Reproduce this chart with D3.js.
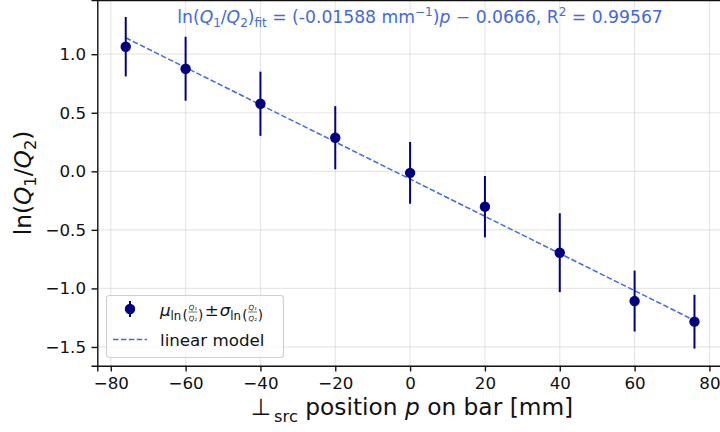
<!DOCTYPE html>
<html>
<head>
<meta charset="utf-8">
<script src="https://cdn.jsdelivr.net/npm/d3@7"></script>
<style>
  body { margin: 0; background: #fff; }
  svg { font-family: "DejaVu Sans", sans-serif; }
</style>
</head>
<body>
<div id="chart"></div>
<script>
// measured positions along the bar [mm] and the ln(Q1/Q2) statistics
const positions = [-76, -60, -40, -20, 0, 20, 40, 60, 76];
const means = [1.064, 0.876, 0.577, 0.287, -0.013, -0.302, -0.695, -1.108, -1.284];
const sigmas = [0.254, 0.273, 0.274, 0.270, 0.264, 0.262, 0.337, 0.260, 0.230];
const fitSlope = -0.01588, fitIntercept = -0.0666;
const xTicks = [-80, -60, -40, -20, 0, 20, 40, 60, 80];
const yTicks = [-1.5, -1.0, -0.5, 0.0, 0.5, 1.0];

const width = 720, height = 432;
const navy = "#000080", fitColor = "#4169e1", ink = "#111";
const fs = 16.7; // 10pt

const svg = d3.select("#chart").append("svg")
  .attr("width", width)
  .attr("height", height);

const x = d3.scaleLinear().domain([-83.6, 83.6]).range([97.3, 722.9]);
const y = d3.scaleLinear().domain([-1.66, 1.463]).range([365.7, 0]);

// grid
svg.append("g").selectAll("line").data(xTicks).join("line")
  .attr("x1", d => x(d)).attr("x2", d => x(d))
  .attr("y1", y.range()[1]).attr("y2", y.range()[0])
  .attr("stroke", "#b0b0b0").attr("stroke-opacity", 0.3).attr("stroke-width", 1.2);
svg.append("g").selectAll("line").data(yTicks).join("line")
  .attr("y1", d => y(d)).attr("y2", d => y(d))
  .attr("x1", x.range()[0]).attr("x2", x.range()[1])
  .attr("stroke", "#b0b0b0").attr("stroke-opacity", 0.3).attr("stroke-width", 1.2);

// axes
const fmtX = d => d < 0 ? "\u2212" + Math.abs(d) : "" + d;
const fmtY = d => (d < 0 ? "\u2212" : "") + Math.abs(d).toFixed(1);

const xAxis = svg.append("g")
  .attr("transform", `translate(0,${y.range()[0]})`)
  .call(d3.axisBottom(x).tickValues(xTicks).tickFormat(fmtX).tickSize(5.8).tickPadding(5.5));
const yAxis = svg.append("g")
  .attr("transform", `translate(${x.range()[0]},0)`)
  .call(d3.axisLeft(y).tickValues(yTicks).tickFormat(fmtY).tickSize(5.8).tickPadding(5.5));

[xAxis, yAxis].forEach(g => {
  g.select(".domain").attr("stroke", ink).attr("stroke-width", 1.4);
  g.selectAll(".tick line").attr("stroke", ink).attr("stroke-width", 1.4);
  g.selectAll(".tick text").attr("font-family", "DejaVu Sans").attr("font-size", fs).attr("fill", ink);
});
// top spine
svg.append("line")
  .attr("x1", x.range()[0]).attr("x2", x.range()[1])
  .attr("y1", 0.6).attr("y2", 0.6)
  .attr("stroke", ink).attr("stroke-width", 1.4);

// fit line
const fitLine = d3.line()
  .x(d => x(d))
  .y(d => y(fitSlope * d + fitIntercept));
svg.append("path")
  .datum([positions[0], positions[positions.length - 1]])
  .attr("d", fitLine)
  .attr("fill", "none")
  .attr("stroke", fitColor)
  .attr("stroke-width", 1.5)
  .attr("stroke-dasharray", "5.5,2.4");

// error bars + markers
const pts = positions.map((p, i) => ({ p, m: means[i], s: sigmas[i] }));
svg.append("g").selectAll("line").data(pts).join("line")
  .attr("x1", d => x(d.p)).attr("x2", d => x(d.p))
  .attr("y1", d => y(d.m + d.s)).attr("y2", d => y(d.m - d.s))
  .attr("stroke", navy).attr("stroke-width", 2);
svg.append("g").selectAll("circle").data(pts).join("circle")
  .attr("cx", d => x(d.p)).attr("cy", d => y(d.m))
  .attr("r", 5.2).attr("fill", navy);

// title (fit result)
const tfs = 17.2, tsub = 12;
const title = svg.append("text")
  .attr("x", 420).attr("y", 23)
  .attr("text-anchor", "middle")
  .attr("font-size", tfs)
  .attr("fill", fitColor);
title.append("tspan").text("ln(");
title.append("tspan").attr("font-style", "italic").text("Q");
title.append("tspan").attr("font-size", tsub).attr("dy", 3.5).text("1");
title.append("tspan").attr("dy", -3.5).text("/");
title.append("tspan").attr("font-style", "italic").text("Q");
title.append("tspan").attr("font-size", tsub).attr("dy", 3.5).text("2");
title.append("tspan").attr("dy", -3.5).text(")");
title.append("tspan").attr("font-size", tsub).attr("dy", 3.5).text("fit");
title.append("tspan").attr("dy", -3.5).text(" = (-0.01588 mm");
title.append("tspan").attr("font-size", tsub).attr("dy", -7).text("\u22121");
title.append("tspan").attr("dy", 7).text(")");
title.append("tspan").attr("font-style", "italic").text("p");
title.append("tspan").text(" \u2212 0.0666, R");
title.append("tspan").attr("font-size", tsub).attr("dy", -7).text("2");
title.append("tspan").attr("dy", 7).text(" = 0.99567");

// y label
const yl = svg.append("text")
  .attr("transform", "translate(31,183) rotate(-90)")
  .attr("text-anchor", "middle")
  .attr("font-size", 23.3)
  .attr("fill", ink);
yl.append("tspan").text("ln(");
yl.append("tspan").attr("font-style", "italic").text("Q");
yl.append("tspan").attr("font-size", 16.3).attr("dy", 4.5).text("1");
yl.append("tspan").attr("dy", -4.5).text("/");
yl.append("tspan").attr("font-style", "italic").text("Q");
yl.append("tspan").attr("font-size", 16.3).attr("dy", 4.5).text("2");
yl.append("tspan").attr("dy", -4.5).text(")");

// x label
const xl = svg.append("text")
  .attr("x", 412).attr("y", 415)
  .attr("text-anchor", "middle")
  .attr("font-size", 23.3)
  .attr("fill", ink);
xl.append("tspan").text("\u22a5");
xl.append("tspan").attr("font-size", 16.3).attr("dx", 3).attr("dy", 7).text("src");
xl.append("tspan").attr("dy", -7).text(" position ");
xl.append("tspan").attr("font-style", "italic").text("p");
xl.append("tspan").text(" on bar [mm]");

// legend
const lg = svg.append("g").attr("transform", "translate(106,295)");
lg.append("rect")
  .attr("x", 0.5).attr("y", 0.5)
  .attr("width", 177).attr("height", 62).attr("rx", 3)
  .attr("fill", "#fff").attr("fill-opacity", 0.8)
  .attr("stroke", "#d0d0d0").attr("stroke-width", 1.2);
lg.append("line")
  .attr("x1", 24).attr("x2", 24).attr("y1", 6).attr("y2", 22)
  .attr("stroke", navy).attr("stroke-width", 2);
lg.append("circle").attr("cx", 24).attr("cy", 14).attr("r", 5.2).attr("fill", navy);
lg.append("line")
  .attr("x1", 7).attr("x2", 41).attr("y1", 44.5).attr("y2", 44.5)
  .attr("stroke", fitColor).attr("stroke-width", 1.5)
  .attr("stroke-dasharray", "5.5,2.4");
lg.append("text").attr("x", 54).attr("y", 51)
  .attr("font-size", fs).attr("fill", ink).text("linear model");

// mu_ln(Q1/Q2) ± sigma_ln(Q1/Q2)
function statLabel(g, x0, sym) {
  g.append("text").attr("x", x0).attr("y", 20.5).attr("font-size", fs)
    .attr("font-style", "italic").attr("fill", ink).text(sym);
  const sx = x0 + 10.5;
  g.append("text").attr("x", sx).attr("y", 24.5).attr("font-size", 11.7).attr("fill", ink).text("ln");
  g.append("text").attr("x", sx + 12).attr("y", 25).attr("font-size", 13.5).attr("fill", ink).text("(");
  const fx = sx + 22.3;
  g.append("text").attr("x", fx).attr("y", 14.5).attr("text-anchor", "middle").attr("font-size", 7)
    .attr("font-style", "italic").attr("fill", ink).text("Q\u2081");
  g.append("line").attr("x1", fx - 4.5).attr("x2", fx + 4.5).attr("y1", 17).attr("y2", 17)
    .attr("stroke", ink).attr("stroke-width", 0.6);
  g.append("text").attr("x", fx).attr("y", 25.5).attr("text-anchor", "middle").attr("font-size", 7)
    .attr("font-style", "italic").attr("fill", ink).text("Q\u2082");
  g.append("text").attr("x", fx + 5.2).attr("y", 25).attr("font-size", 13.5).attr("fill", ink).text(")");
  return fx + 10.5;
}
let nx = statLabel(lg, 54, "\u03bc");
lg.append("text").attr("x", nx + 1.5).attr("y", 20.5).attr("font-size", fs).attr("fill", ink).text("\u00b1");
statLabel(lg, nx + 16.5, "\u03c3");
</script>
</body>
</html>
